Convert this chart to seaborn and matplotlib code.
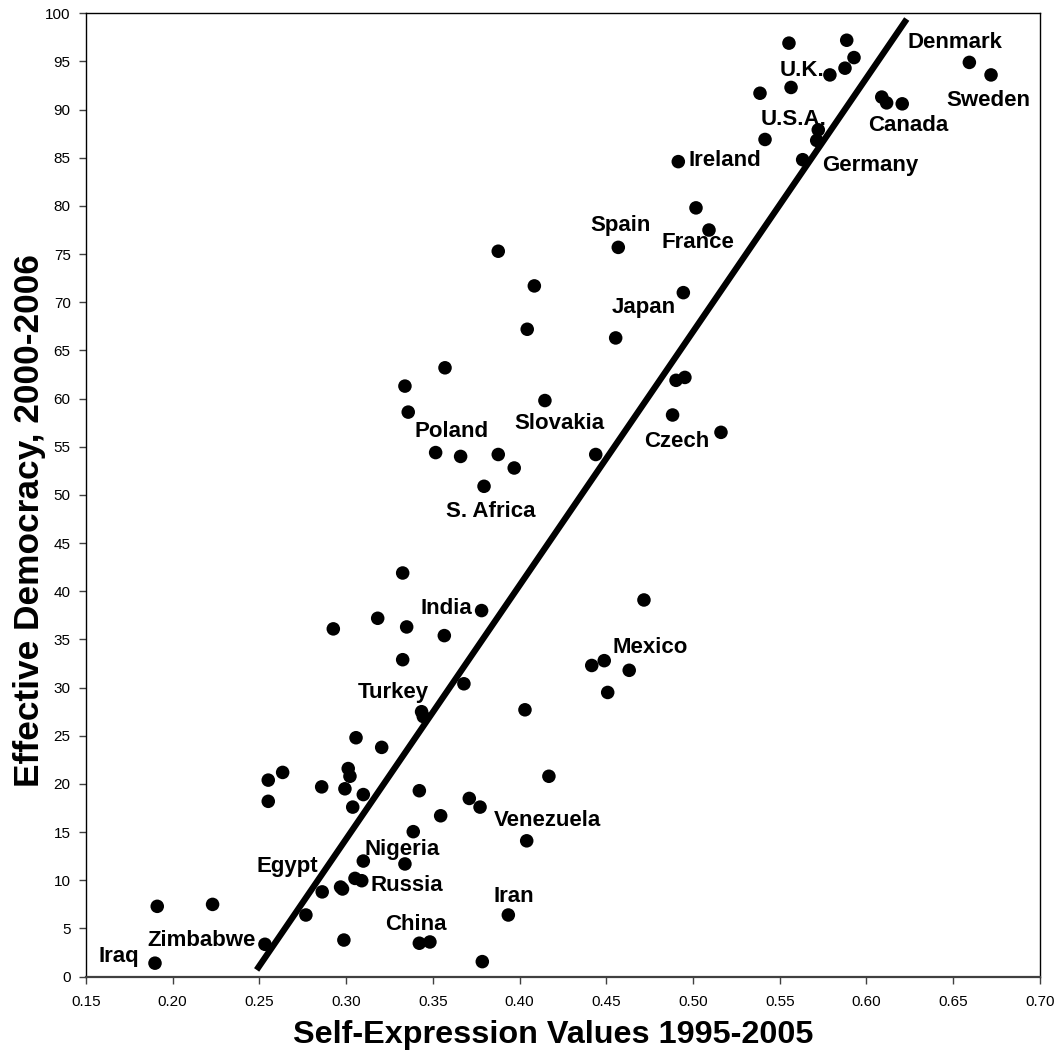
import numpy as np
import pandas as pd
import seaborn as sns
import matplotlib.pyplot as plt
from matplotlib.ticker import FormatStrFormatter, MultipleLocator

# self-expression values (x) and effective democracy scores (y), one entry per country
self_expression = [
    0.5553, 0.5886, 0.5928, 0.5876, 0.5789, 0.5386, 0.5565, 0.6088, 0.6116, 0.6206,
    0.6593, 0.6718, 0.5722, 0.5713, 0.5415, 0.5632, 0.4915, 0.5017, 0.5092, 0.3877,
    0.4569, 0.4085, 0.4944, 0.4044, 0.4554, 0.3570, 0.3339, 0.3358, 0.4146, 0.3516,
    0.3660, 0.3877, 0.3969, 0.3795, 0.4439, 0.4902, 0.4953, 0.4882, 0.5161, 0.3326,
    0.3781, 0.2926, 0.3182, 0.3349, 0.3566, 0.3326, 0.3679, 0.4717, 0.4416, 0.4488,
    0.4632, 0.4508, 0.3435, 0.3445, 0.4031, 0.4169, 0.3422, 0.3710, 0.3772, 0.3545,
    0.3387, 0.4041, 0.3339, 0.3935, 0.3422, 0.3483, 0.3785, 0.3057, 0.3205, 0.2551,
    0.2634, 0.2551, 0.2859, 0.3012, 0.3022, 0.2993, 0.3099, 0.3038, 0.3099, 0.3051,
    0.3090, 0.2968, 0.2979, 0.2862, 0.2768, 0.2987, 0.1911, 0.2230, 0.2532, 0.1898,
]
democracy = [
    96.9, 97.2, 95.4, 94.3, 93.6, 91.7, 92.3, 91.3, 90.7, 90.6,
    94.9, 93.6, 87.9, 86.8, 86.9, 84.8, 84.6, 79.8, 77.5, 75.3,
    75.7, 71.7, 71.0, 67.2, 66.3, 63.2, 61.3, 58.6, 59.8, 54.4,
    54.0, 54.2, 52.8, 50.9, 54.2, 61.9, 62.2, 58.3, 56.5, 41.9,
    38.0, 36.1, 37.2, 36.3, 35.4, 32.9, 30.4, 39.1, 32.3, 32.8,
    31.8, 29.5, 27.5, 27.0, 27.7, 20.8, 19.3, 18.5, 17.6, 16.7,
    15.05, 14.1, 11.7, 6.4, 3.47, 3.6, 1.56, 24.8, 23.8, 20.4,
    21.2, 18.2, 19.7, 21.6, 20.8, 19.5, 18.9, 17.6, 12.0, 10.2,
    9.96, 9.3, 9.1, 8.8, 6.4, 3.8, 7.3, 7.5, 3.36, 1.4,
]

# fitted regression line end points
fit_x = [0.2484, 0.6232]
fit_y = [0.7, 99.4]

# country labels: left edge x, baseline y
label_names = ["Denmark", "U.K.", "Sweden", "U.S.A.", "Canada", "Germany", "Ireland",
               "Spain", "France", "Japan", "Slovakia", "Poland", "Czech", "S. Africa",
               "India", "Mexico", "Turkey", "Venezuela", "Nigeria", "Egypt", "Russia",
               "China", "Iran", "Zimbabwe", "Iraq"]
label_x = [0.6239, 0.5501, 0.6458, 0.5392, 0.6009, 0.5743, 0.4971,
           0.4406, 0.4821, 0.4533, 0.3968, 0.3397, 0.4717, 0.3576,
           0.3431, 0.4533, 0.3068, 0.3852, 0.3103, 0.2486, 0.3143,
           0.3224, 0.3852, 0.1852, 0.1575]
label_y = [96.4, 93.5, 90.4, 88.4, 87.8, 83.6, 84.1,
           77.4, 75.6, 68.9, 56.8, 56.0, 55.0, 47.75,
           37.65, 33.6, 28.9, 15.6, 12.6, 10.9, 8.9,
           4.85, 7.7, 3.2, 1.56]

df = pd.DataFrame({"x": self_expression, "y": democracy})
fit = pd.DataFrame({"x": fit_x, "y": fit_y})

sns.set_theme(style="white")
plt.rcParams["font.family"] = ["Liberation Sans", "DejaVu Sans"]

fig = plt.figure(figsize=(10.56, 10.53), dpi=100)
ax = fig.add_axes([0.0814, 0.0725, 0.9034, 0.9149])

sns.lineplot(x="x", y="y", data=fit, color="black", linewidth=4.5, ax=ax,
             solid_capstyle="butt")
sns.scatterplot(x="x", y="y", data=df, color="black", s=95, edgecolor="none",
                ax=ax, zorder=3)

for name, lx, ly in zip(label_names, label_x, label_y):
    ax.text(lx, ly, name, fontsize=16, fontweight="bold", ha="left",
            va="baseline", color="black", zorder=4)

ax.set_xlim(0.15, 0.70)
ax.set_ylim(0, 100)
ax.xaxis.set_major_locator(MultipleLocator(0.05))
ax.xaxis.set_major_formatter(FormatStrFormatter("%.2f"))
ax.yaxis.set_major_locator(MultipleLocator(5))

for side in ["top", "right", "left"]:
    ax.spines[side].set_color("black")
    ax.spines[side].set_linewidth(1.0)
ax.spines["bottom"].set_color("#404040")
ax.spines["bottom"].set_linewidth(1.6)

ax.tick_params(axis="both", direction="out", length=5, width=1, color="#404040",
               labelsize=11, labelcolor="black", bottom=True, left=True,
               top=False, right=False)
ax.tick_params(axis="x", pad=8)
ax.tick_params(axis="y", pad=6)

ax.set_xlabel("Self-Expression Values 1995-2005", fontsize=23.3, fontweight="bold",
              color="black")
ax.set_ylabel("Effective Democracy, 2000-2006", fontsize=25.4, fontweight="bold",
              color="black")
ax.xaxis.set_label_coords(0.4895, -0.045)
ax.yaxis.set_label_coords(-0.042, 0.473)

fig.savefig("out.png", dpi=100, facecolor="white")
